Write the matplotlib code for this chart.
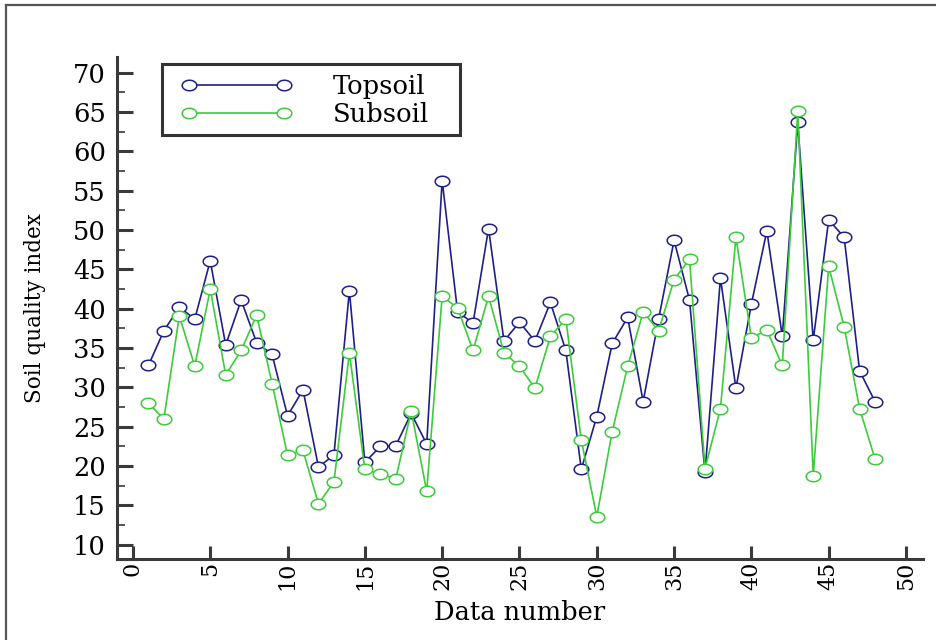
import numpy as np
import matplotlib
matplotlib.use("Agg")
import matplotlib.pyplot as plt
from matplotlib.path import Path
from matplotlib.lines import Line2D
from matplotlib.patches import Rectangle

# data
data_number = list(range(1, 49))
topsoil = [32.8, 37.2, 40.2, 38.7, 46.1, 35.4, 41.1, 35.7, 34.2, 26.4,
           29.7, 19.9, 21.4, 42.3, 20.5, 22.5, 22.6, 26.7, 22.8, 56.3,
           39.6, 38.2, 50.2, 35.9, 38.3, 35.9, 40.8, 34.7, 19.6, 26.3,
           35.6, 38.9, 28.2, 38.7, 48.7, 41.1, 19.2, 43.9, 29.9, 40.6,
           49.9, 36.5, 63.7, 36.0, 51.3, 49.1, 32.1, 28.2]
subsoil = [28.0, 26.0, 39.1, 32.7, 42.5, 31.6, 34.7, 39.2, 30.5, 21.4,
           22.0, 15.2, 18.0, 34.4, 19.6, 19.0, 18.4, 27.0, 16.8, 41.6,
           40.1, 34.7, 41.6, 34.4, 32.7, 29.9, 36.5, 38.7, 23.3, 13.6,
           24.4, 32.7, 39.6, 37.2, 43.7, 46.3, 19.7, 27.3, 49.1, 36.3,
           37.3, 32.8, 65.1, 18.8, 45.4, 37.7, 27.3, 20.9]
x_ticks = list(range(0, 51, 5))
y_ticks = list(range(10, 71, 5))

plt.rcParams['font.family'] = ['DejaVu Serif']

W, H = 936, 640

# slightly flattened circle, like the stretched markers in the source
t = np.linspace(0, 2 * np.pi, 60)
ellipse = Path(np.column_stack([np.cos(t), 0.72 * np.sin(t)]), closed=True)

fig = plt.figure(figsize=(W / 100, H / 100), dpi=100)
ax = fig.add_axes([117 / W, 1 - 559 / H, (923 - 117) / W, (559 - 57) / H])

ax.plot(data_number, topsoil, color='#1f1f88', lw=1.2, marker=ellipse,
        ms=10.5, mfc='white', mec='#1f1f88', mew=1.1, label='Topsoil')
ax.plot(data_number, subsoil, color='#3ccc3c', lw=1.2, marker=ellipse,
        ms=10.5, mfc='white', mec='#3ccc3c', mew=1.1, label='Subsoil')

ax.set_xlim(-1.03, 51.1)
ax.set_ylim(8.2, 72.0)
ax.set_xticks(x_ticks)
ax.set_yticks(y_ticks)
ax.set_yticks(np.arange(12.5, 70, 5), minor=True)

for side in ['top', 'right']:
    ax.spines[side].set_visible(False)
for side in ['left', 'bottom']:
    ax.spines[side].set_color('#3a3a3a')
    ax.spines[side].set_linewidth(2.2)

ax.tick_params(axis='y', which='major', direction='in', length=11.5, width=2.2,
               color='#3a3a3a', labelsize=18.5, pad=8)
ax.tick_params(axis='y', which='minor', direction='in', length=6, width=1.2,
               color='#3a3a3a')
ax.tick_params(axis='x', which='major', direction='in', length=9.5, width=2.2,
               color='#3a3a3a', labelsize=16, labelrotation=90, pad=2)

ax.set_xlabel('Data number', fontsize=18.5, labelpad=7)
ax.set_ylabel('Soil quality index', fontsize=15.5, labelpad=19)

leg = ax.legend(loc='upper left', bbox_to_anchor=(181 / W, 1 - 74 / H),
                bbox_transform=fig.transFigure, numpoints=2, fontsize=18.5,
                handlelength=4.3, handletextpad=1.6, labelspacing=0.12,
                borderpad=0, borderaxespad=0, frameon=False)

# legend frame drawn by hand, the source box has extra side padding
fig.add_artist(Rectangle((162 / W, 1 - 135 / H), (460 - 162) / W, (135 - 64) / H,
                         transform=fig.transFigure, fill=False,
                         edgecolor='#333333', lw=2.2))

# outer frame (only top and left edges show in the cropped source)
fig.add_artist(Line2D([6 / W, 1], [1 - 5 / H, 1 - 5 / H],
                      transform=fig.transFigure, color='#555555', lw=1.6))
fig.add_artist(Line2D([6 / W, 6 / W], [0, 1 - 5 / H],
                      transform=fig.transFigure, color='#555555', lw=1.6))

fig.savefig('out.png', dpi=100)
